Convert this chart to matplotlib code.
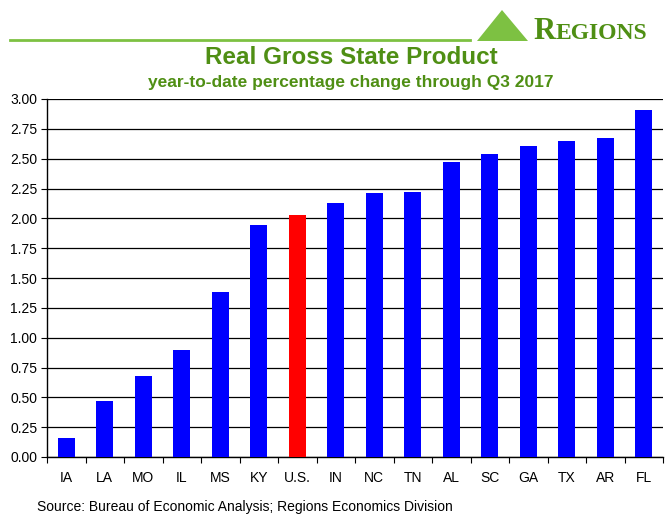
import matplotlib.pyplot as plt
from matplotlib.patches import Polygon
from matplotlib.lines import Line2D

plt.rcParams['font.family'] = ['Liberation Sans', 'DejaVu Sans']

states = ['IA', 'LA', 'MO', 'IL', 'MS', 'KY', 'U.S.', 'IN', 'NC', 'TN',
          'AL', 'SC', 'GA', 'TX', 'AR', 'FL']
growth = [0.16, 0.47, 0.68, 0.90, 1.38, 1.94, 2.03, 2.13, 2.21, 2.22,
          2.47, 2.54, 2.61, 2.65, 2.67, 2.91]
y_ticks = [0.00, 0.25, 0.50, 0.75, 1.00, 1.25, 1.50, 1.75, 2.00, 2.25,
           2.50, 2.75, 3.00]

green = '#4f8f14'
bar_colors = ['#ff0000' if s == 'U.S.' else '#0000ff' for s in states]

fig = plt.figure(figsize=(6.67, 5.15), dpi=100)
ax = fig.add_axes([47 / 667, 58 / 515, 616 / 667, 358 / 515])

x = range(len(states))
ax.bar(x, growth, width=0.45, color=bar_colors, zorder=3)
ax.set_xlim(-0.5, len(states) - 0.5)
ax.set_ylim(0, 3.0)
ax.set_yticks(y_ticks)
ax.set_yticklabels([f'{v:.2f}' for v in y_ticks], fontsize=10)
ax.yaxis.grid(True, color='black', linewidth=0.9)
ax.set_axisbelow(True)
ax.set_xticks([i - 0.5 for i in range(len(states) + 1)])
ax.set_xticklabels([])
ax.set_xticks(list(x), minor=True)
ax.set_xticklabels(states, minor=True, fontsize=10)
ax.tick_params(axis='x', which='minor', length=0, pad=10)
ax.tick_params(axis='x', which='major', length=4, direction='out')
ax.tick_params(axis='y', length=4, direction='out', pad=3)
for side in ['top', 'right']:
    ax.spines[side].set_visible(False)
ax.spines['left'].set_linewidth(1.0)
ax.spines['bottom'].set_linewidth(1.0)

# header: green rule and logo
fig.add_artist(Line2D([10 / 667, 470 / 667], [1 - 40 / 515, 1 - 40 / 515],
                      color='#7dc142', linewidth=2))
tri = Polygon([[477 / 667, 1 - 41 / 515], [502 / 667, 1 - 10 / 515],
               [528 / 667, 1 - 41 / 515]], closed=True,
              facecolor='#7dc142', edgecolor='none', transform=fig.transFigure)
fig.add_artist(tri)
fig.text(533 / 667, 1 - 39 / 515, 'R', family='Liberation Serif',
         fontsize=22, color=green, weight='bold', va='baseline', ha='left')
fig.text(556 / 667, 1 - 39 / 515, 'EGIONS', family='Liberation Serif',
         fontsize=17, color=green, weight='bold', va='baseline', ha='left')

fig.text(351 / 667, 1 - 57 / 515, 'Real Gross State Product', ha='center',
         va='center', fontsize=17.5, weight='bold', color=green)
fig.text(351 / 667, 1 - 82 / 515,
         'year-to-date percentage change through Q3 2017', ha='center',
         va='center', fontsize=12.5, weight='bold', color=green)
fig.text(37 / 667, 1 - 507 / 515,
         'Source: Bureau of Economic Analysis; Regions Economics Division',
         ha='left', va='center', fontsize=10)

plt.savefig('out.png', dpi=100)
